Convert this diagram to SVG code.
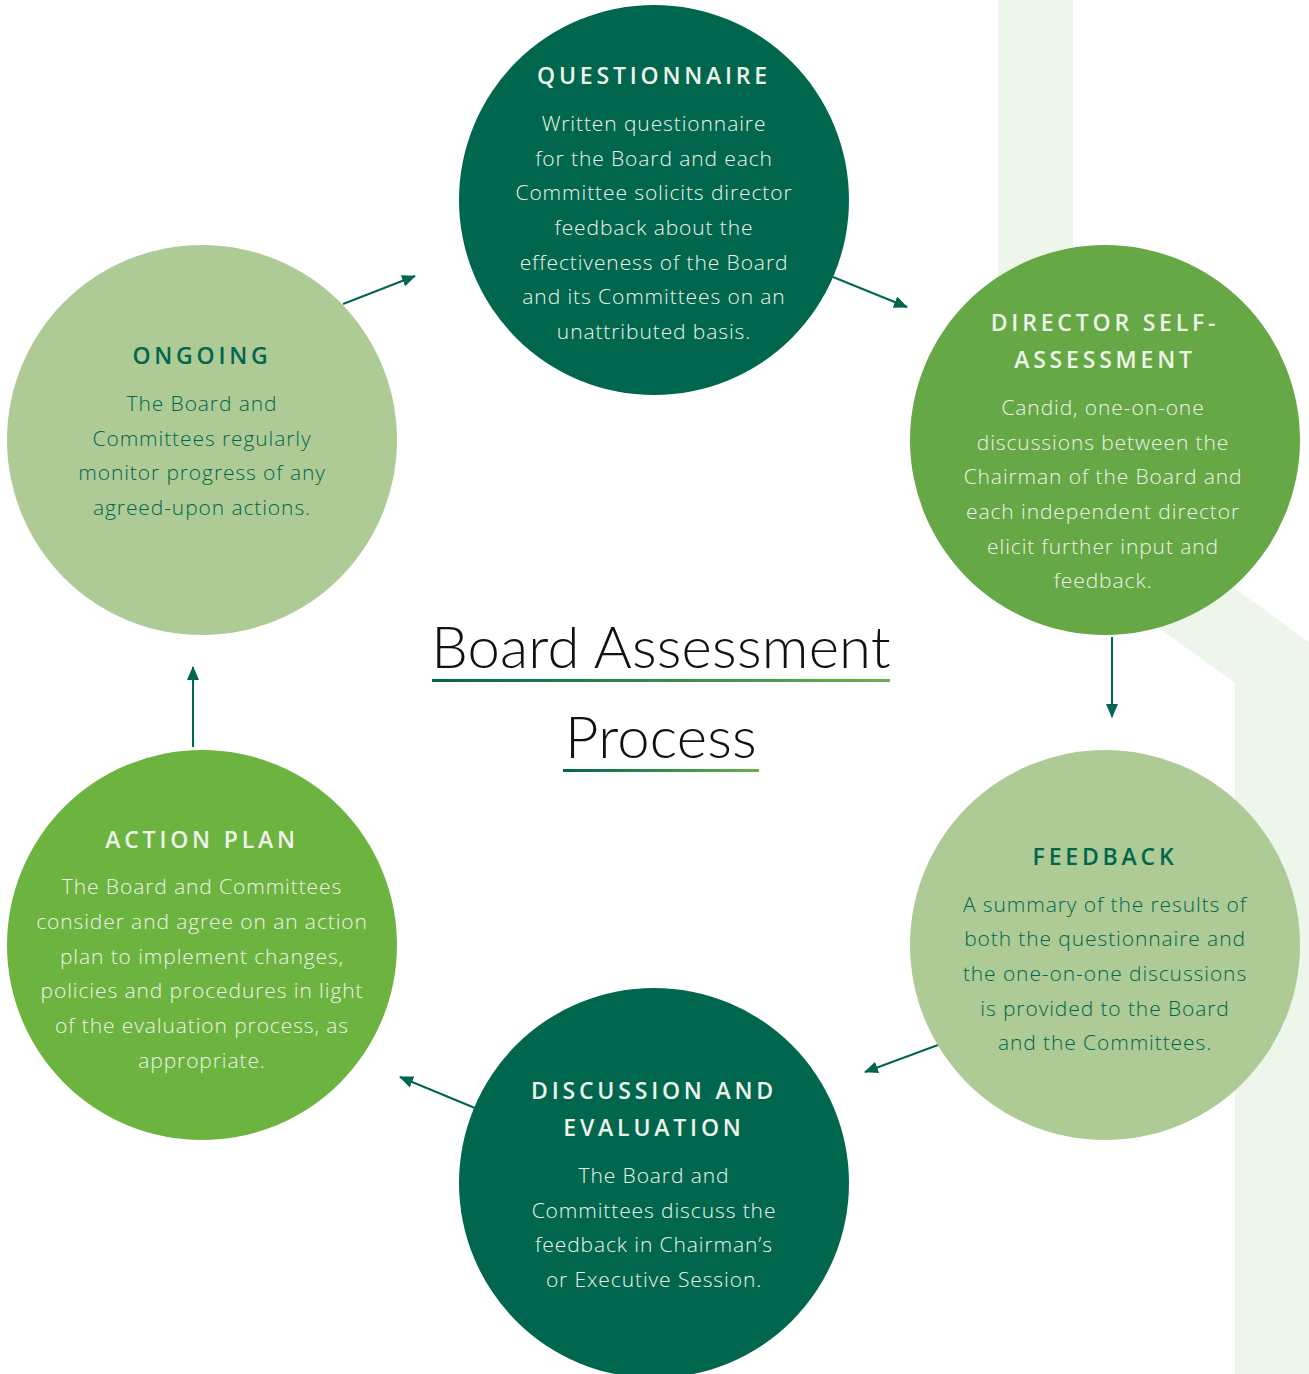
<svg xmlns="http://www.w3.org/2000/svg" width="1309" height="1374" viewBox="0 0 1309 1374">
<defs>
<linearGradient id="ul" x1="0" y1="0" x2="1" y2="0"><stop offset="0" stop-color="#00664f"/><stop offset="1" stop-color="#6ab04c"/></linearGradient>
<marker id="ah" viewBox="0 0 14 12" refX="13" refY="6" markerWidth="14" markerHeight="12" markerUnits="userSpaceOnUse" orient="auto"><path d="M0,0 L14,6 L0,12 Z" fill="#00664f"/></marker>
<style>
.h{font-family:"Open Sans","Liberation Sans",sans-serif;font-size:23px;font-weight:600;letter-spacing:3.8px;text-anchor:middle}
.b{font-family:"Open Sans","Liberation Sans",sans-serif;font-size:21px;font-weight:300;letter-spacing:0.9px;text-anchor:middle}
.lt{fill:#eef4ea}
.dk{fill:#00664f}
.c{stroke:#00664f;stroke-width:2;fill:none;marker-end:url(#ah)}
.t{font-family:"Lato","Open Sans",sans-serif;font-weight:300;font-size:58px;letter-spacing:0.2px;fill:#111;text-anchor:middle}
</style>
</defs>
<rect width="1309" height="1374" fill="#fff"/>
<path d="M998,0 L1073,0 L1073,472 L1309,642 L1309,1374 L1235,1374 L1235,683 L998,512 Z" fill="#eef5ea"/>
<g id="title">
<text class="t" x="661" y="668">Board Assessment</text>
<rect x="432" y="679" width="458" height="3" fill="url(#ul)"/>
<text class="t" x="661" y="758">Process</text>
<rect x="563" y="769" width="196" height="3" fill="url(#ul)"/>
</g>
<g id="connectors">
<line class="c" x1="343" y1="304" x2="415" y2="276"/>
<line class="c" x1="833" y1="277" x2="907" y2="307"/>
<line class="c" x1="1112" y1="637" x2="1112" y2="717"/>
<line class="c" x1="938" y1="1045" x2="865" y2="1072"/>
<line class="c" x1="475" y1="1108" x2="400" y2="1077"/>
<line class="c" x1="193" y1="747" x2="193" y2="667"/>
</g>
<g id="questionnaire">
<circle cx="654" cy="200" r="195" fill="#00674e"/>
<text class="h lt" x="654" y="84">QUESTIONNAIRE</text>
<text class="b lt" x="654"><tspan x="654" y="131">Written questionnaire</tspan><tspan x="654" y="166">for the Board and each</tspan><tspan x="654" y="200">Committee solicits director</tspan><tspan x="654" y="235">feedback about the</tspan><tspan x="654" y="270">effectiveness of the Board</tspan><tspan x="654" y="304">and its Committees on an</tspan><tspan x="654" y="339">unattributed basis.</tspan></text>
</g>
<g id="director">
<circle cx="1105" cy="440" r="195" fill="#65a845"/>
<text class="h lt" x="1105"><tspan x="1105" y="331">DIRECTOR SELF-</tspan><tspan x="1105" y="368">ASSESSMENT</tspan></text>
<text class="b lt"><tspan x="1103" y="415">Candid, one-on-one</tspan><tspan x="1103" y="450">discussions between the</tspan><tspan x="1103" y="484">Chairman of the Board and</tspan><tspan x="1103" y="519">each independent director</tspan><tspan x="1103" y="554">elicit further input and</tspan><tspan x="1103" y="588">feedback.</tspan></text>
</g>
<g id="feedback">
<circle cx="1105" cy="945" r="195" fill="#aecb96"/>
<text class="h dk" x="1105" y="865">FEEDBACK</text>
<text class="b dk"><tspan x="1105" y="912">A summary of the results of</tspan><tspan x="1105" y="946">both the questionnaire and</tspan><tspan x="1105" y="981">the one-on-one discussions</tspan><tspan x="1105" y="1016">is provided to the Board</tspan><tspan x="1105" y="1050">and the Committees.</tspan></text>
</g>
<g id="discussion">
<circle cx="654" cy="1183" r="195" fill="#00674e"/>
<text class="h lt"><tspan x="654" y="1099">DISCUSSION AND</tspan><tspan x="654" y="1136">EVALUATION</tspan></text>
<text class="b lt"><tspan x="654" y="1183">The Board and</tspan><tspan x="654" y="1218">Committees discuss the</tspan><tspan x="654" y="1252">feedback in Chairman’s</tspan><tspan x="654" y="1287">or Executive Session.</tspan></text>
</g>
<g id="actionplan">
<circle cx="202" cy="945" r="195" fill="#6cb33f"/>
<text class="h lt" x="202" y="848">ACTION PLAN</text>
<text class="b lt"><tspan x="202" y="894">The Board and Committees</tspan><tspan x="202" y="929">consider and agree on an action</tspan><tspan x="202" y="964">plan to implement changes,</tspan><tspan x="202" y="998">policies and procedures in light</tspan><tspan x="202" y="1033">of the evaluation process, as</tspan><tspan x="202" y="1068">appropriate.</tspan></text>
</g>
<g id="ongoing">
<circle cx="202" cy="440" r="195" fill="#aecb96"/>
<text class="h dk" x="202" y="364">ONGOING</text>
<text class="b dk"><tspan x="202" y="411">The Board and</tspan><tspan x="202" y="446">Committees regularly</tspan><tspan x="202" y="480">monitor progress of any</tspan><tspan x="202" y="515">agreed-upon actions.</tspan></text>
</g>
</svg>
